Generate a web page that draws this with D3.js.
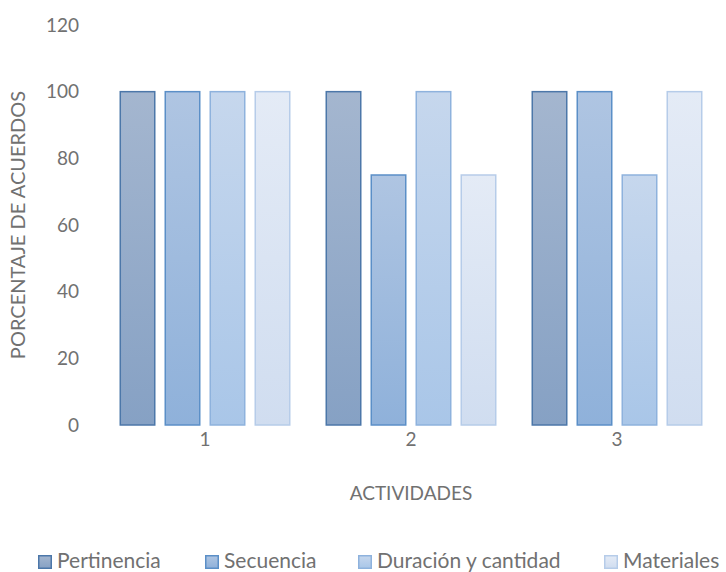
<!DOCTYPE html>
<html>
<head>
<meta charset="utf-8">
<script src="https://cdn.jsdelivr.net/npm/d3@7"></script>
<style>
  html, body { margin: 0; padding: 0; background: #fff; }
  svg { display: block; }
  text { font-family: Lato, "Open Sans", sans-serif; font-weight: 400; fill: #717171; }
</style>
</head>
<body>
<svg id="chart" width="726" height="572"></svg>
<script>
// Activities and the four evaluation criteria
const categories = ["1", "2", "3"];
const seriesNames = ["Pertinencia", "Secuencia", "Duración y cantidad", "Materiales"];
const pertinencia = [100, 100, 100];
const secuencia = [100, 75, 100];
const duracion = [100, 100, 75];
const materiales = [100, 75, 100];
const yTicks = [0, 20, 40, 60, 80, 100, 120];

const seriesValues = [pertinencia, secuencia, duracion, materiales];

// Fill gradient (top, bottom) and outline for each series
const palette = [
  { top: "#a4b6cf", bottom: "#86a1c4", stroke: "#4c77a9" },
  { top: "#afc5e2", bottom: "#8fb1da", stroke: "#5b8fc7" },
  { top: "#c6d7ed", bottom: "#a9c6e8", stroke: "#8eb2dd" },
  { top: "#e4ebf6", bottom: "#d0ddf0", stroke: "#b6cce9" }
];

const svg = d3.select("#chart");
const margin = { left: 102, right: 720, top: 25, bottom: 425 };

const x = d3.scaleBand().domain(categories).range([margin.left, margin.right]).paddingInner(0.17).paddingOuter(0.085);
const xs = d3.scaleBand().domain(d3.range(seriesNames.length)).range([0, x.bandwidth()]).paddingInner(0.2);
const y = d3.scaleLinear().domain([0, 120]).range([margin.bottom, margin.top]);

const defs = svg.append("defs");
palette.forEach((p, i) => {
  const g = defs.append("linearGradient").attr("id", "grad" + i)
    .attr("x1", 0).attr("y1", 0).attr("x2", 0).attr("y2", 1);
  g.append("stop").attr("offset", "0%").attr("stop-color", p.top);
  g.append("stop").attr("offset", "100%").attr("stop-color", p.bottom);
});

const fontStack = "Lato, 'Open Sans', sans-serif";
const textColor = "#717171";

// Y axis labels (no axis line, no gridlines)
const yAxis = svg.append("g")
  .attr("transform", `translate(${margin.left - 23},0)`)
  .call(d3.axisLeft(y).tickValues(yTicks).tickSize(0).tickPadding(0));
yAxis.select(".domain").remove();
yAxis.selectAll("text").style("font-size", "19px").attr("fill", textColor)
  .style("font-family", fontStack);

// X axis labels
const xAxis = svg.append("g")
  .attr("transform", `translate(0,${margin.bottom})`)
  .call(d3.axisBottom(x).tickSize(0).tickPadding(8));
xAxis.select(".domain").remove();
xAxis.selectAll("text").style("font-size", "19px").attr("fill", textColor)
  .style("font-family", fontStack);

// Bars
seriesValues.forEach((vals, si) => {
  svg.append("g").selectAll("rect")
    .data(vals.map((v, ci) => ({ v, c: categories[ci] })))
    .join("rect")
    .attr("x", d => x(d.c) + xs(si) + 0.75)
    .attr("y", d => y(d.v))
    .attr("width", xs.bandwidth() - 1.5)
    .attr("height", d => y(0) - y(d.v))
    .attr("fill", `url(#grad${si})`)
    .attr("stroke", palette[si].stroke)
    .attr("stroke-width", 1.5);
});

// Axis titles
svg.append("text")
  .attr("x", (margin.left + margin.right) / 2).attr("y", 500)
  .attr("text-anchor", "middle").style("font-size", "19px")
  .text("ACTIVIDADES");

svg.append("text")
  .attr("transform", `translate(25,${(margin.top + margin.bottom) / 2}) rotate(-90)`)
  .attr("text-anchor", "middle").style("font-size", "20px")
  .text("PORCENTAJE DE ACUERDOS");

// Legend
const legendX = [38, 205, 358, 604];
const legend = svg.append("g");
seriesNames.forEach((name, i) => {
  const g = legend.append("g").attr("transform", `translate(${legendX[i]},555)`);
  g.append("rect").attr("x", 0.75).attr("y", 0.75).attr("width", 12.5).attr("height", 12.5)
    .attr("fill", `url(#grad${i})`).attr("stroke", palette[i].stroke).attr("stroke-width", 1.5);
  g.append("text").attr("x", 19).attr("y", 13).style("font-size", "21px").text(name);
});
</script>
</body>
</html>
